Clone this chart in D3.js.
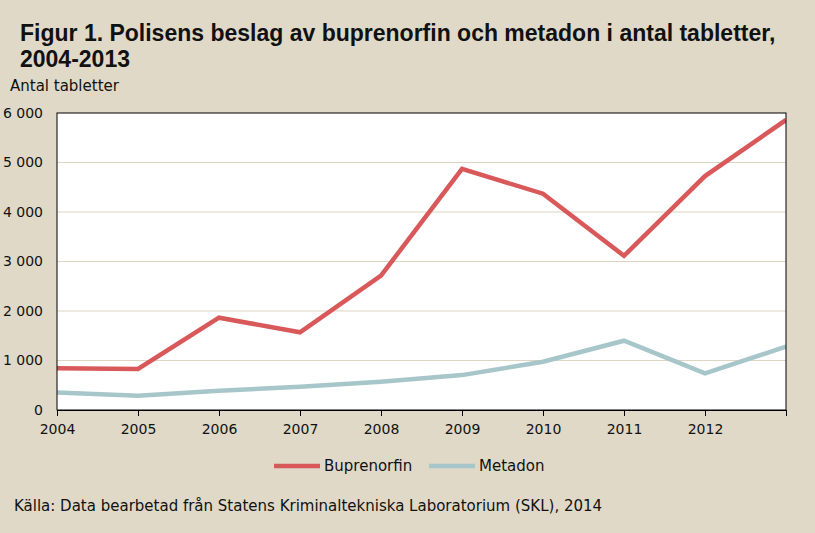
<!DOCTYPE html>
<html><head><meta charset="utf-8">
<script src="https://cdn.jsdelivr.net/npm/d3@7"></script>
<style>
html,body{margin:0;padding:0;background:#E0D9C8;}
svg{display:block;}
</style></head>
<body>
<svg id="chart" width="815" height="533"></svg>
<script>
const years = [2004,2005,2006,2007,2008,2009,2010,2011,2012,2013];
const xTickLabels = ["2004","2005","2006","2007","2008","2009","2010","2011","2012",""];
const buprenorfin = [845,830,1865,1570,2715,4870,4370,3115,4725,5860];
const metadon = [355,290,390,470,570,705,975,1400,740,1280];
const yTicks = [0,1000,2000,3000,4000,5000,6000];
const seriesNames = ["Buprenorfin","Metadon"];
const seriesColors = ["#D9595A","#A7C6CA"];

const FONT = '"DejaVu Sans",sans-serif';
const TFONT = '"Liberation Sans",Arial,sans-serif';
const svg = d3.select("#chart");
const m = {left:57, right:786, top:113, bottom:410};
const x = d3.scaleLinear().domain([2004,2013]).range([m.left,m.right]);
const y = d3.scaleLinear().domain([0,6000]).range([m.bottom,m.top]);

svg.append("rect").attr("width",815).attr("height",533).attr("fill","#E0D9C8");

function txt(xp, yp, s, size, fam, bold){
  return svg.append("text").attr("x",xp).attr("y",yp)
    .style("font-family",fam).style("font-size",size+"px")
    .style("font-weight",bold?"bold":"normal").style("fill","#111").text(s);
}

// title
txt(20,41,"Figur 1. Polisens beslag av buprenorfin och metadon i antal tabletter,",23,TFONT,true);
txt(20,67,"2004-2013",23,TFONT,true);
txt(10,91,"Antal tabletter",15,FONT,false);

// plot background
svg.append("rect").attr("x",m.left).attr("y",m.top).attr("width",m.right-m.left).attr("height",m.bottom-m.top).attr("fill","#fff");

// gridlines
svg.append("g").selectAll("line").data(yTicks.filter(d=>d>0 && d<6000)).join("line")
  .attr("x1",m.left).attr("x2",m.right).attr("y1",d=>y(d)).attr("y2",d=>y(d))
  .attr("stroke","#DDD5C2").attr("stroke-width",1.2);

// y axis labels
const fmt = d => d===0 ? "0" : d3.format(",")(d).replace(",", " ");
const yAxis = d3.axisLeft(y).tickValues(yTicks).tickFormat(fmt).tickSize(0).tickPadding(14);
const gy = svg.append("g").attr("transform",`translate(${m.left},0)`).call(yAxis);
gy.select(".domain").remove();
gy.selectAll("text").style("font-size","14px").style("fill","#111").style("font-family",FONT);

// x axis
const xAxis = d3.axisBottom(x).tickValues(years).tickFormat((d,i)=>xTickLabels[i]).tickSize(6).tickPadding(8).tickSizeOuter(0);
const gx = svg.append("g").attr("transform",`translate(0,${m.bottom})`).call(xAxis);
gx.select(".domain").attr("stroke","#000");
gx.selectAll(".tick line").attr("stroke","#000");
gx.selectAll("text").style("font-size","14px").style("fill","#111").attr("dy","0.71em").style("font-family",FONT);

// lines
const line = d3.line().x((d,i)=>x(years[i])).y(d=>y(d));
svg.append("clipPath").attr("id","clip").append("rect")
  .attr("x",m.left).attr("y",m.top-3).attr("width",m.right-m.left).attr("height",m.bottom-m.top+6);
[buprenorfin, metadon].forEach((s,k)=>{
  svg.append("path").datum(s).attr("d",line).attr("fill","none")
    .attr("stroke",seriesColors[k]).attr("stroke-width",4.5).attr("clip-path","url(#clip)");
});

// border
svg.append("rect").attr("x",m.left).attr("y",m.top).attr("width",m.right-m.left).attr("height",m.bottom-m.top)
  .attr("fill","none").attr("stroke","#000").attr("stroke-width",1);

// legend
const legX = [274, 429];
seriesNames.forEach((n,k)=>{
  svg.append("line").attr("x1",legX[k]).attr("x2",legX[k]+46).attr("y1",466).attr("y2",466)
    .attr("stroke",seriesColors[k]).attr("stroke-width",4.5);
  txt(legX[k]+50,471,n,15,FONT,false);
});

// source
txt(14,511,"Källa: Data bearbetad från Statens Kriminaltekniska Laboratorium (SKL), 2014",15,FONT,false);
</script>
</body></html>
